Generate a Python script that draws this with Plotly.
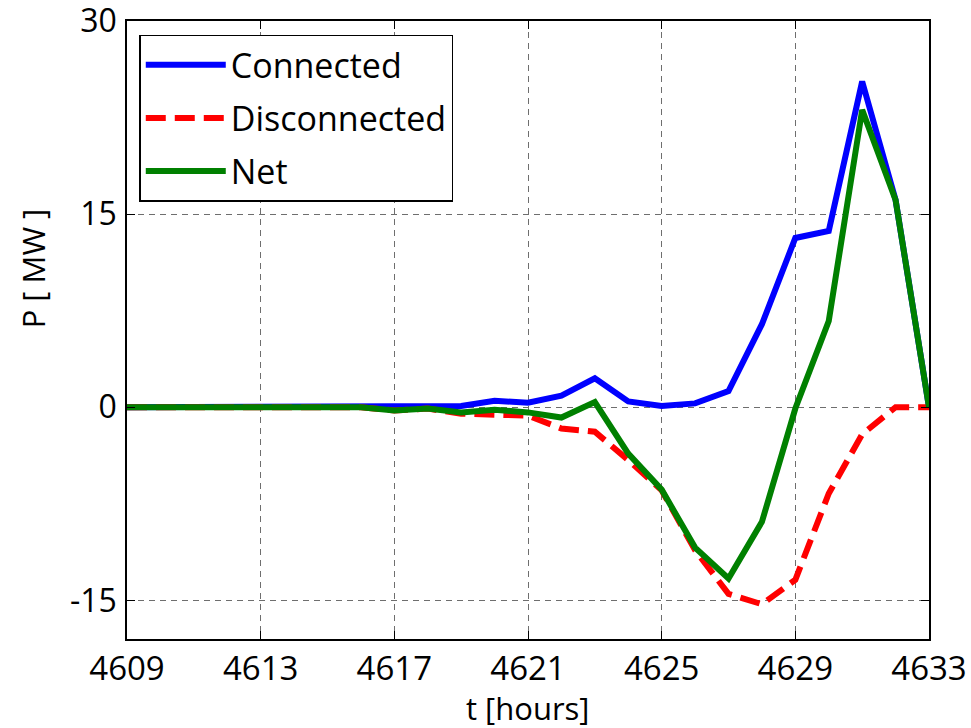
import plotly.graph_objects as go

# Hourly time stamps
hours = list(range(4609, 4634))

# Power [MW]
connected = [0, 0, 0, 0, 0, 0, 0, 0, 0, 0, 0.1, 0.5, 0.35, 0.9, 2.25,
             0.45, 0.1, 0.3, 1.25, 6.45, 13.15, 13.7, 25.3, 16.1, 0]
disconnected = [0, 0, 0, 0, 0, 0, 0, 0, -0.25, -0.1, -0.5, -0.55, -0.65, -1.65, -1.9,
                -4.1, -6.45, -11.1, -14.5, -15.3, -13.4, -6.7, -2.1, 0, 0]
net = [0, 0, 0, 0, 0, 0, 0, 0, -0.25, -0.1, -0.4, -0.2, -0.4, -0.8, 0.4,
       -3.6, -6.4, -10.9, -13.3, -8.9, -0.1, 6.7, 23.1, 16.1, 0]

x_ticks = [4609, 4613, 4617, 4621, 4625, 4629, 4633]
y_ticks = [-15, 0, 15, 30]

FONT = "Open Sans"

fig = go.Figure()
fig.add_trace(go.Scatter(x=hours, y=connected, name="Connected", mode="lines",
                         legendgroup="a",
                         line=dict(color="#0000ff", width=6)))
fig.add_trace(go.Scatter(x=hours, y=disconnected, name="Disconnected", mode="lines",
                         legendgroup="b",
                         line=dict(color="#ff0000", width=6, dash="20px,9px")))
fig.add_trace(go.Scatter(x=hours, y=net, name="Net", mode="lines",
                         legendgroup="c",
                         line=dict(color="#008000", width=6)))

axis_common = dict(
    showline=True, linecolor="black", linewidth=1.5, mirror="ticks",
    ticks="inside", ticklen=8, tickcolor="black", tickwidth=1,
    showgrid=True, gridcolor="#6e6e6e", gridwidth=1, griddash="6px,5px",
    zeroline=False, automargin=False, ticklabeloverflow="allow",
)

fig.update_xaxes(range=[4609, 4633], tickvals=x_ticks,
                 ticktext=[str(v) for v in x_ticks], ticklabelstandoff=0,
                 tickfont=dict(family=FONT, size=33, color="black"),
                 **axis_common)
fig.update_yaxes(range=[-18, 30.001], tickvals=y_ticks,
                 ticktext=[str(v) for v in y_ticks], ticklabelstandoff=2,
                 tickfont=dict(family=FONT, size=32, color="black"),
                 **axis_common)

title_font = dict(family=FONT, size=31, color="black")
fig.add_annotation(text="t [hours]", xref="paper", yref="paper",
                   x=0.5, y=-0.112, xanchor="center", yanchor="middle",
                   showarrow=False, font=title_font)
fig.add_annotation(text="P [ MW ]", xref="paper", yref="paper",
                   x=-0.117, y=0.6, xanchor="center", yanchor="middle",
                   textangle=-90, showarrow=False, font=title_font)

fig.update_layout(
    width=971, height=728,
    margin=dict(l=127, r=42, t=21, b=89),
    paper_bgcolor="white", plot_bgcolor="white",
    font=dict(family=FONT, color="black"),
    legend=dict(
        x=0.0153, y=0.978, xanchor="left", yanchor="top",
        bgcolor="white", bordercolor="black", borderwidth=1.5,
        font=dict(family=FONT, size=34, color="black"),
        itemwidth=80, tracegroupgap=6,
    ),
)

fig.write_html("out.html")
